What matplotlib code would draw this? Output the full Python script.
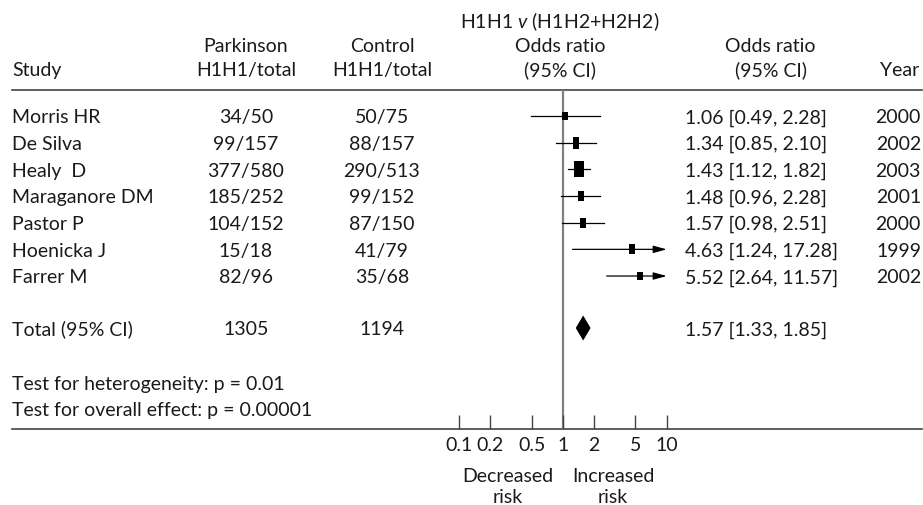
import numpy as np
import matplotlib
matplotlib.use("Agg")
import matplotlib.pyplot as plt

plt.rcParams['font.family'] = ['Lato', 'DejaVu Sans']
plt.rcParams['mathtext.fontset'] = 'custom'
plt.rcParams['mathtext.rm'] = 'Lato'
plt.rcParams['mathtext.it'] = 'Lato:italic'

# Study data
studies = ["Morris HR", "De Silva", "Healy  D", "Maraganore DM", "Pastor P", "Hoenicka J", "Farrer M"]
pd_events = [34, 99, 377, 185, 104, 15, 82]
pd_total = [50, 157, 580, 252, 152, 18, 96]
ctrl_events = [50, 88, 290, 99, 87, 41, 35]
ctrl_total = [75, 157, 513, 152, 150, 79, 68]
odds = [1.06, 1.34, 1.43, 1.48, 1.57, 4.63, 5.52]
ci_low = [0.49, 0.85, 1.12, 0.96, 0.98, 1.24, 2.64]
ci_high = [2.28, 2.10, 1.82, 2.28, 2.51, 17.28, 11.57]
years = [2000, 2002, 2003, 2001, 2000, 1999, 2002]
weights = [8, 13, 30, 12, 9, 9, 8]   # relative weight

pooled_n_pd = 1305
pooled_n_ctrl = 1194
pooled_or = 1.57
pooled_low = 1.33
pooled_high = 1.85
p_het = "0.01"
p_overall = "0.00001"

tick_vals = [0.1, 0.2, 0.5, 1, 2, 5, 10]
tick_labels = ["0.1", "0.2", "0.5", "1", "2", "5", "10"]

W, H = 923, 506
fig = plt.figure(figsize=(W / 100, H / 100), dpi=100)
fig.patch.set_facecolor("white")

# background axes in pixel units for the table text and rules
bg = fig.add_axes([0, 0, 1, 1])
bg.set_xlim(0, W)
bg.set_ylim(H, 0)
bg.axis("off")

txt = "#1a1a1a"
fs = 14


def put(x, y, s, ha="left"):
    bg.text(x, y, s, ha=ha, va="baseline", fontsize=fs, color=txt)


row_y = [117 + 26.67 * i for i in range(len(studies))]
total_y = 329
base = 6.3  # baseline offset below row centre

# header
put(560, 28, r"H1H1 $\mathit{v}$ (H1H2+H2H2)", "center")
put(560, 52, "Odds ratio", "center")
put(560, 76, "(95% CI)", "center")
put(12, 76, "Study")
put(246, 52, "Parkinson", "center")
put(246, 76, "H1H1/total", "center")
put(382, 52, "Control", "center")
put(382, 76, "H1H1/total", "center")
put(770, 52, "Odds ratio", "center")
put(771, 76, "(95% CI)", "center")
put(919, 76, "Year", "right")

bg.plot([12, 922], [91, 91], color="#444444", lw=1.2)
bg.plot([12, 922], [430, 430], color="#444444", lw=1.2)

for i, name in enumerate(studies):
    y = row_y[i] + base
    put(12, y, name)
    put(246, y, f"{pd_events[i]}/{pd_total[i]}", "center")
    put(382, y, f"{ctrl_events[i]}/{ctrl_total[i]}", "center")
    put(685, y, f"{odds[i]:.2f} [{ci_low[i]:.2f}, {ci_high[i]:.2f}]")
    put(921, y, str(years[i]), "right")

put(12, total_y + base, "Total (95% CI)")
put(246, total_y + base, str(pooled_n_pd), "center")
put(382, total_y + base, str(pooled_n_ctrl), "center")
put(685, total_y + base, f"{pooled_or:.2f} [{pooled_low:.2f}, {pooled_high:.2f}]")

put(12, 390, f"Test for heterogeneity: p = {p_het}")
put(12, 416, f"Test for overall effect: p = {p_overall}")

put(508, 482, "Decreased", "center")
put(508, 503, "risk", "center")
put(613, 482, "Increased", "center")
put(613, 503, "risk", "center")

# forest plot axes, log scale, 0.1 .. 10
x0, x1 = 459, 666.7
y_top, y_bot = 91, 430
ax = fig.add_axes([x0 / W, 1 - y_bot / H, (x1 - x0) / W, (y_bot - y_top) / H])
ax.patch.set_alpha(0)
ax.set_xscale("log")
ax.set_xlim(0.1, 10)
ax.set_ylim(y_bot, y_top)
for s in ax.spines.values():
    s.set_visible(False)
ax.set_yticks([])
ax.set_xticks(tick_vals)
ax.set_xticklabels(tick_labels)
ax.minorticks_off()
ax.tick_params(axis="x", direction="in", length=10, width=1, color="#444444",
               pad=5, labelsize=fs, labelcolor=txt)

ax.axvline(1, color="#808080", lw=1.6, zorder=1)

box = [(-0.3, -0.5), (0.3, -0.5), (0.3, 0.5), (-0.3, 0.5), (-0.3, -0.5)]
for i in range(len(studies)):
    y = row_y[i]
    hi = min(ci_high[i], 10)
    if ci_high[i] > 10:
        ax.annotate("", xy=(hi, y), xytext=(ci_low[i], y),
                    arrowprops=dict(arrowstyle="-|>,head_length=0.8,head_width=0.22",
                                    color="black", lw=0.9, shrinkA=0, shrinkB=0,
                                    mutation_scale=10),
                    annotation_clip=False)
    else:
        ax.plot([ci_low[i], hi], [y, y], color="black", lw=0.9, zorder=2, clip_on=False)
    size_px = 3.1 * np.sqrt(weights[i])
    ax.plot(odds[i], y, marker=box, markersize=size_px * 0.72, color="black",
            markeredgewidth=0, linestyle="none", zorder=3, clip_on=False)

# pooled diamond
ax.fill([pooled_low, pooled_or, pooled_high, pooled_or],
        [total_y, total_y - 12.5, total_y, total_y + 12.5],
        color="black", lw=0, zorder=3)

fig.savefig("out.png", dpi=100)
